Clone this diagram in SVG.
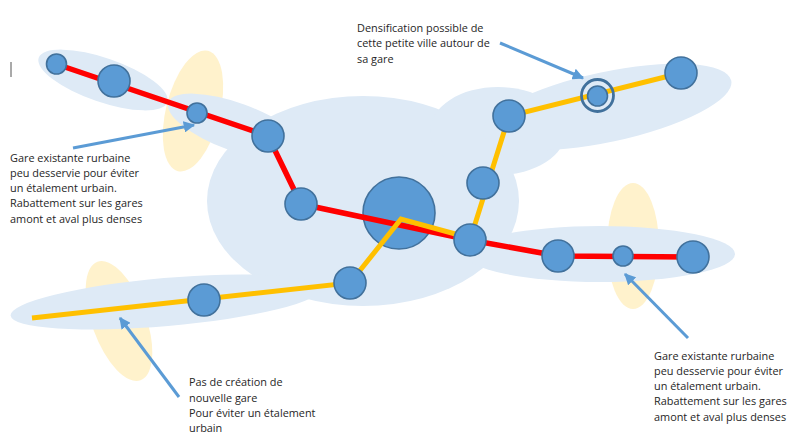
<svg xmlns="http://www.w3.org/2000/svg" width="800" height="439" viewBox="0 0 800 439">
<style>
.zone{fill:#DEEAF6}
.fringe{fill:#FFF2CC}
.st{fill:#5B9BD5;stroke:#41719C;stroke-width:1.6}
.red{fill:none;stroke:#FF0000;stroke-width:5.500}
.yel{fill:none;stroke:#FFC000;stroke-width:5}
.arr{stroke:#5B9BD5;stroke-width:3;fill:none;marker-end:url(#ah)}
text{font-family:"Open Sans","Liberation Sans",sans-serif;font-size:10.9px;fill:#262626}
</style>
<defs><marker id="ah" viewBox="0 0 10 10" refX="9" refY="5" markerWidth="3.800" markerHeight="3.800" orient="auto"><path d="M0 0L10 5L0 10z" fill="#5B9BD5"/></marker></defs>
<rect width="800" height="439" fill="#fff"/>
<g id="fringes">
<ellipse class="fringe" cx="193" cy="111" rx="27" ry="62" transform="rotate(14 193 111)"/>
<ellipse class="fringe" cx="633" cy="246" rx="26" ry="63"/>
<ellipse class="fringe" cx="119" cy="321" rx="27" ry="63" transform="rotate(-20 119 321)"/>
</g>
<g id="zones">
<ellipse class="zone" cx="103" cy="80" rx="68" ry="22" transform="rotate(19 103 80)"/>
<ellipse class="zone" cx="236" cy="127" rx="72" ry="24" transform="rotate(20 236 127)"/>
<ellipse class="zone" cx="363" cy="201" rx="156" ry="105"/>
<ellipse class="zone" cx="498" cy="131" rx="68" ry="44"/>
<ellipse class="zone" cx="607" cy="107" rx="127" ry="35" transform="rotate(-12 607 107)"/>
<ellipse class="zone" cx="600" cy="254" rx="135" ry="28"/>
<ellipse class="zone" cx="166" cy="302" rx="156" ry="24" transform="rotate(-5 166 302)"/>
</g>
<g id="station-centre"><circle class="st" cx="399" cy="213" r="36"/></g>
<g id="connectors">
<polyline class="red" points="56,64 268,136 301,204 470,240 558,256 693,257"/>
<polyline class="yel" points="32,318 350,283 401,219 470,238"/>
<polyline class="yel" points="470,240 509,116 681,73"/>
<line class="arr" x1="73" y1="148" x2="194" y2="125"/>
<line class="arr" x1="500" y1="43" x2="583" y2="78"/>
<line class="arr" x1="688" y1="338" x2="625" y2="274"/>
<line class="arr" x1="179" y1="397" x2="120" y2="318"/>
</g>
<g id="station-1"><circle class="st" cx="56.500" cy="64" r="10"/></g>
<g id="station-2"><circle class="st" cx="114" cy="81" r="16"/></g>
<g id="station-3"><circle class="st" cx="197" cy="113" r="10"/></g>
<g id="station-4"><circle class="st" cx="268" cy="136" r="16"/></g>
<g id="station-5"><circle class="st" cx="301" cy="204" r="16"/></g>
<g id="station-6"><circle class="st" cx="470" cy="240" r="16"/></g>
<g id="station-7"><circle class="st" cx="558" cy="256" r="16"/></g>
<g id="station-8"><circle class="st" cx="623" cy="256" r="10"/></g>
<g id="station-9"><circle class="st" cx="693" cy="257" r="16"/></g>
<g id="station-10"><circle class="st" cx="483" cy="183" r="16"/></g>
<g id="station-11"><circle class="st" cx="509" cy="116" r="16"/></g>
<g id="station-12"><circle cx="597.500" cy="95.500" r="16" fill="none" stroke="#41719C" stroke-width="2.800"/><circle class="st" cx="597.500" cy="96" r="10"/></g>
<g id="station-13"><circle class="st" cx="681" cy="73" r="16"/></g>
<g id="station-14"><circle class="st" cx="350" cy="283" r="16"/></g>
<g id="station-15"><circle class="st" cx="204" cy="300" r="16"/></g>
<line id="cursor" x1="11" y1="62" x2="11" y2="77" stroke="#555" stroke-width="1"/>
<g id="label-left"><text x="10" y="162">Gare existante rurbaine</text><text x="10" y="177">peu desservie pour éviter</text><text x="10" y="192">un étalement urbain.</text><text x="10" y="207">Rabattement sur les gares</text><text x="10" y="223">amont et aval plus denses</text></g>
<g id="label-top"><text x="357" y="32">Densification possible de</text><text x="357" y="47">cette petite ville autour de</text><text x="357" y="63">sa gare</text></g>
<g id="label-bottom"><text x="189" y="386">Pas de création de</text><text x="189" y="402">nouvelle gare</text><text x="189" y="417">Pour éviter un étalement</text><text x="189" y="432">urbain</text></g>
<g id="label-right"><text x="654" y="360">Gare existante rurbaine</text><text x="654" y="375">peu desservie pour éviter</text><text x="654" y="390">un étalement urbain.</text><text x="654" y="405">Rabattement sur les gares</text><text x="654" y="421">amont et aval plus denses</text></g>
</svg>
